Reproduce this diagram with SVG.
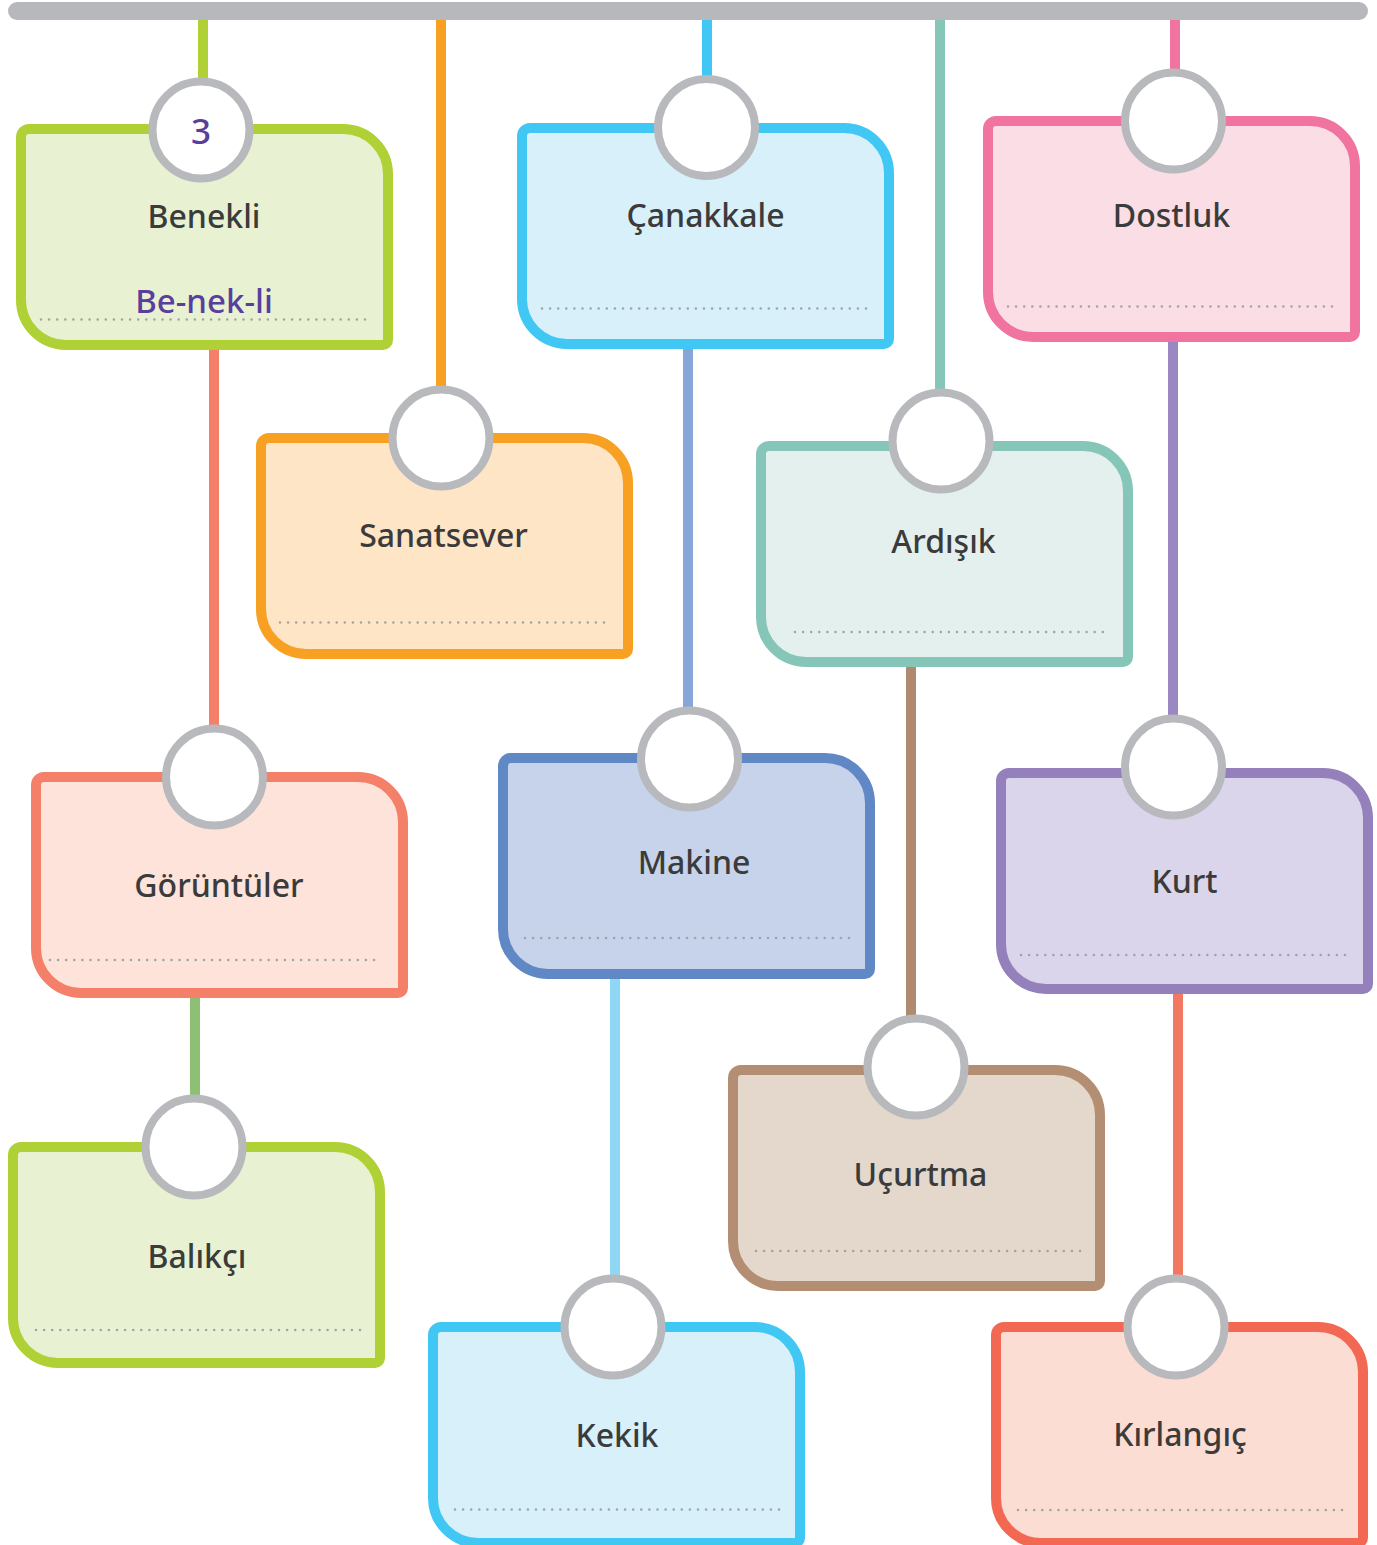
<svg xmlns="http://www.w3.org/2000/svg" xmlns:xlink="http://www.w3.org/1999/xlink" width="1377" height="1545" viewBox="0 0 1377 1545">
<style>
.card{stroke-width:10;stroke-linejoin:round}
.hole{fill:#ffffff;stroke:#b8b9bd;stroke-width:8}
.dots{stroke:#a3a3a6;stroke-width:2.6;stroke-linecap:round;stroke-dasharray:0 8.1;fill:none}
.lbl{font-family:"Noto Sans","Open Sans","DejaVu Sans",sans-serif;font-size:32px;font-weight:500;fill:#3b3b3b;text-anchor:middle}
.pur{font-family:"Noto Sans","Open Sans","DejaVu Sans",sans-serif;font-weight:500;fill:#5a3e9e;text-anchor:middle}
.con line{stroke-width:10;fill:none}
.con line.bar{stroke-width:18;stroke-linecap:round}
.green{fill:#e8f2d2;stroke:#afd136}
.orange{fill:#fee5c6;stroke:#f7a021}
.blue{fill:#d8f0fa;stroke:#41c7f3}
.teal{fill:#e3f0ee;stroke:#86c6b9}
.pink{fill:#fadde5;stroke:#f174a0}
.salmon{fill:#fde3d9;stroke:#f4806a}
.navy{fill:#c7d3ea;stroke:#5f88c4}
.violet{fill:#dad5ea;stroke:#9481bc}
.brown{fill:#e4d7cb;stroke:#b48e72}
.red{fill:#fbddd3;stroke:#f26853}
</style>
<defs>
<path id="card" d="M13,5 H327 A45,45 0 0 1 372,50 V216 A5,5 0 0 1 367,221 H50 A45,45 0 0 1 5,176 V13 A8,8 0 0 1 13,5 Z"/>
</defs>
<rect width="1377" height="1545" fill="#ffffff"/>
<g id="connectors" class="con">
<line x1="203" y1="11" x2="203" y2="130" stroke="#afd136"/>
<line x1="441" y1="11" x2="441" y2="438" stroke="#f7a021"/>
<line x1="707" y1="11" x2="707" y2="127" stroke="#41c7f3"/>
<line x1="940" y1="11" x2="940" y2="441" stroke="#86c6b9"/>
<line x1="1175" y1="11" x2="1175" y2="121" stroke="#f174a0"/>
<line x1="214" y1="340" x2="214" y2="777" stroke="#f4806a"/>
<line x1="195" y1="990" x2="195" y2="1147" stroke="#8dbf74"/>
<line x1="688" y1="340" x2="688" y2="759" stroke="#86a6d8"/>
<line x1="615" y1="970" x2="615" y2="1327" stroke="#8ed7f5"/>
<line x1="911" y1="660" x2="911" y2="1067" stroke="#b08a6f"/>
<line x1="1173" y1="335" x2="1173" y2="767" stroke="#9a88c2"/>
<line x1="1178" y1="985" x2="1178" y2="1327" stroke="#f27862"/>
<line class="bar" x1="17" y1="11" x2="1359" y2="11" stroke="#b7b8bc"/>
</g>
<g id="benekli">
<use xlink:href="#card" href="#card" class="card green" transform="translate(16,124)"/>
<line class="dots" x1="41" y1="319.5" x2="369" y2="319.5"/>
<circle class="hole" cx="201" cy="130" r="48.5"/>
<text class="pur" x="201" y="144" font-size="35">3</text>
<text class="lbl" x="204" y="228">Benekli</text>
<text class="pur" x="204" y="313" font-size="33">Be-nek-li</text>
</g>
<g id="canakkale">
<use xlink:href="#card" href="#card" class="card blue" transform="translate(517,123)"/>
<line class="dots" x1="542" y1="308.5" x2="869" y2="308.5"/>
<circle class="hole" cx="706.5" cy="127.5" r="48.5"/>
<text class="lbl" x="705.5" y="227">Çanakkale</text>
</g>
<g id="dostluk">
<use xlink:href="#card" href="#card" class="card pink" transform="translate(983,116)"/>
<line class="dots" x1="1008" y1="306.5" x2="1336" y2="306.5"/>
<circle class="hole" cx="1173.5" cy="121" r="48.5"/>
<text class="lbl" x="1171.5" y="227">Dostluk</text>
</g>
<g id="sanatsever">
<use xlink:href="#card" href="#card" class="card orange" transform="translate(256,433)"/>
<line class="dots" x1="280" y1="622.5" x2="608" y2="622.5"/>
<circle class="hole" cx="441" cy="438" r="48.5"/>
<text class="lbl" x="443.5" y="547">Sanatsever</text>
</g>
<g id="ardisik">
<use xlink:href="#card" href="#card" class="card teal" transform="translate(756,441)"/>
<line class="dots" x1="795" y1="632" x2="1106" y2="632"/>
<circle class="hole" cx="941" cy="441" r="48.5"/>
<text class="lbl" x="943.5" y="553">Ardışık</text>
</g>
<g id="goruntuler">
<use xlink:href="#card" href="#card" class="card salmon" transform="translate(31,772)"/>
<line class="dots" x1="50" y1="960" x2="379" y2="960"/>
<circle class="hole" cx="214.5" cy="777" r="48.5"/>
<text class="lbl" x="219" y="897">Görüntüler</text>
</g>
<g id="makine">
<use xlink:href="#card" href="#card" class="card navy" transform="translate(498,753)"/>
<line class="dots" x1="525" y1="938" x2="853" y2="938"/>
<circle class="hole" cx="689.5" cy="759" r="48.5"/>
<text class="lbl" x="694" y="874">Makine</text>
</g>
<g id="kurt">
<use xlink:href="#card" href="#card" class="card violet" transform="translate(996,768)"/>
<line class="dots" x1="1021" y1="955" x2="1349" y2="955"/>
<circle class="hole" cx="1173.5" cy="767" r="48.5"/>
<text class="lbl" x="1184.5" y="893">Kurt</text>
</g>
<g id="ucurtma">
<use xlink:href="#card" href="#card" class="card brown" transform="translate(728,1065)"/>
<line class="dots" x1="756" y1="1251" x2="1083" y2="1251"/>
<circle class="hole" cx="916" cy="1067" r="48.5"/>
<text class="lbl" x="920.5" y="1186">Uçurtma</text>
</g>
<g id="balikci">
<use xlink:href="#card" href="#card" class="card green" transform="translate(8,1142)"/>
<line class="dots" x1="36" y1="1330" x2="364" y2="1330"/>
<circle class="hole" cx="194" cy="1147" r="48.5"/>
<text class="lbl" x="197" y="1268">Balıkçı</text>
</g>
<g id="kekik">
<use xlink:href="#card" href="#card" class="card blue" transform="translate(428,1322)"/>
<line class="dots" x1="455" y1="1509.5" x2="784" y2="1509.5"/>
<circle class="hole" cx="613" cy="1327" r="48.5"/>
<text class="lbl" x="617" y="1447">Kekik</text>
</g>
<g id="kirlangic">
<use xlink:href="#card" href="#card" class="card red" transform="translate(991,1322)"/>
<line class="dots" x1="1018" y1="1510" x2="1347" y2="1510"/>
<circle class="hole" cx="1176" cy="1327" r="48.5"/>
<text class="lbl" x="1180" y="1446">Kırlangıç</text>
</g>
</svg>
